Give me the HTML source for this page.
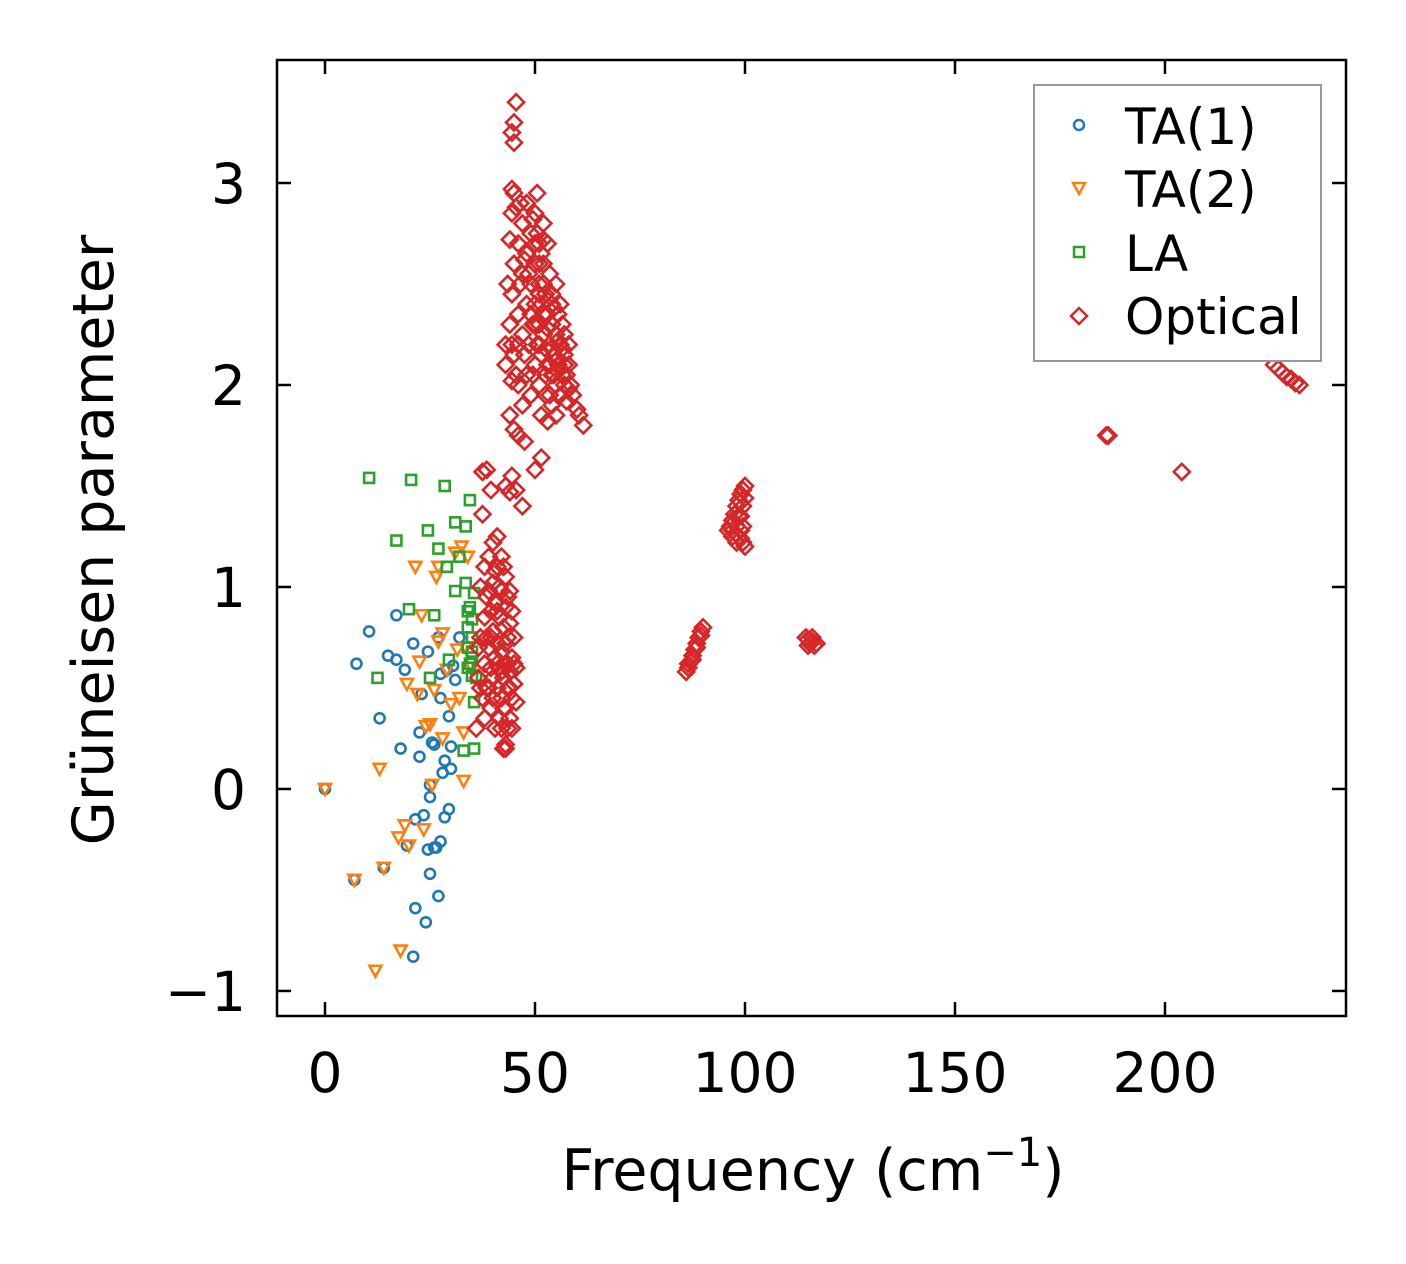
<!DOCTYPE html>
<html><head><meta charset="utf-8"><style>
html,body{margin:0;padding:0;background:#fff;}
svg{display:block;font-family:"DejaVu Sans","Liberation Sans",sans-serif;}
</style></head><body>
<svg id="chart" width="1406" height="1264" viewBox="0 0 1406 1264" xmlns="http://www.w3.org/2000/svg">
<rect width="1406" height="1264" fill="#fff"/>
<g id="marks"></g>
<g id="axes"></g>
<text x="813" y="1190" font-size="57" text-anchor="middle">Frequency (cm<tspan font-size="40" dy="-24">−1</tspan><tspan dy="24">)</tspan></text>
<text transform="translate(113,540) rotate(-90)" font-size="57" text-anchor="middle">Grüneisen parameter</text>
<g>
<rect x="1034" y="85" width="287" height="276" fill="#fff" stroke="#999" stroke-width="2"/>
<circle cx="1079" cy="125" r="5" fill="none" stroke="#1f77b4" stroke-width="2.5"/>
<text x="1125" y="144" font-size="50">TA(1)</text>
<polygon points="1073,183 1085,183 1079,194" fill="none" stroke="#ff7f0e" stroke-width="2.5"/>
<text x="1125" y="207" font-size="50">TA(2)</text>
<rect x="1074" y="247" width="10" height="10" fill="none" stroke="#2ca02c" stroke-width="2.5"/>
<text x="1125" y="271" font-size="50">LA</text>
<polygon points="1079,308 1087,316 1079,324 1071,316" fill="none" stroke="#d62728" stroke-width="2.5"/>
<text x="1125" y="334" font-size="50">Optical</text>
</g>
</svg>
<script>
const xTicks=[0,50,100,150,200];
const yTicks=[-1,0,1,2,3];
const yTickLabels=["−1","0","1","2","3"];
const ta1=[[0,0],[7.5,0.62],[7,-0.45],[10.5,0.78],[13,0.35],[14,-0.39],[15,0.66],[17,0.64],[17,0.86],[18,0.2],[19,0.59],[19.5,-0.28],[21,0.72],[21,-0.83],[21.5,-0.15],[21.5,-0.59],[22.5,0.16],[22.5,0.28],[23,0.47],[23.5,-0.13],[24,-0.66],[24.5,0.68],[24.5,-0.3],[25,-0.42],[25,0.02],[25,-0.04],[25.5,0.23],[26,-0.29],[26,0.22],[26.5,-0.29],[27,0.75],[27,-0.53],[27.5,0.45],[27.5,0.57],[27.5,-0.26],[28,0.08],[28.5,0.14],[28.5,-0.14],[29,0.59],[29.5,-0.1],[29.5,0.36],[30,0.1],[30,0.21],[30.5,0.61],[31,0.54],[32,0.75]];
const ta2=[[0,0],[7,-0.45],[12,-0.9],[13,0.1],[14,-0.39],[17.5,-0.24],[18,-0.8],[19,-0.18],[19.5,0.52],[20,-0.28],[21.5,1.1],[22,0.47],[22.5,0.63],[23,0.86],[23.5,-0.2],[24,0.31],[25,0.32],[25.5,0.02],[26,0.49],[26.5,1.05],[27,1.1],[27,0.73],[28,0.77],[28,0.25],[29,0.59],[30,0.42],[31,1.17],[31.5,0.69],[32,0.45],[32.5,1.2],[33,0.04],[33,0.28],[33.5,0.7],[34,1.15],[35,0.6]];
const la=[[10.5,1.54],[12.5,0.55],[17,1.23],[20,0.89],[20.5,1.53],[24.5,1.28],[25,0.55],[26,0.86],[27,1.19],[28.5,1.5],[29,1.1],[29.5,0.64],[31,1.32],[31,0.98],[32,1.15],[33,0.19],[33.5,1.3],[33.5,1.02],[34,0.8],[34,0.88],[34,0.7],[34,0.6],[34.5,1.43],[34.5,0.9],[35,0.84],[35,0.65],[35,0.56],[35,0.75],[35.5,0.2],[35.5,0.43],[35.5,0.97],[36,0.55],[34.5,0.62],[35,0.68]];
const optical=[[36,0.3],[36.5,0.55],[37,0.75],[37,1.0],[37.5,0.45],[37.5,1.36],[38,0.62],[38,0.85],[38,1.1],[38.5,0.5],[38.5,0.95],[39,0.7],[39,1.15],[39.5,0.4],[39.5,0.6],[39.5,0.88],[40,0.55],[40,0.78],[40,1.02],[40,1.22],[40.5,0.65],[40.5,0.92],[41,0.5],[41,0.72],[41,1.1],[41.5,0.6],[41.5,0.85],[41.5,0.35],[42,0.45],[42,0.68],[42,0.98],[42,1.15],[42.5,0.2],[42.5,0.55],[42.5,0.8],[43,0.22],[43,0.4],[43,0.62],[43,0.9],[43,1.05],[43.5,0.3],[43.5,0.5],[43.5,0.75],[44,0.58],[44,0.82],[44,0.98],[44.5,0.45],[44.5,0.65],[45,0.52],[45,0.75],[45.5,0.43],[45.5,0.6],[39,0.5],[38,0.35],[40.5,0.3],[41,1.25],[42,0.3],[44,0.35],[43,0.2],
[38.5,0.75],[39,0.98],[40,0.45],[40.5,1.08],[41,0.88],[41.5,1.0],[42,0.58],[42.5,1.1],[43,0.72],[43.5,0.95],[44,0.5],[44.5,0.88],[45,0.62],[36.5,0.7],[37,0.5],[39.5,0.75],[41,0.62],[42.5,0.4],[43.5,0.62],[44.5,0.3],
[37.5,1.57],[38.5,1.58],[39.5,1.48],[43,1.5],[44.5,1.55],[45.5,1.48],[47,1.4],[50,1.58],[51.5,1.64],[44,1.47],
[44.5,3.25],[45,3.3],[45.5,3.4],[45,3.2],[44.5,2.97],[45,2.95],[45.5,2.88],
[43,2.1],[43,2.2],[43.5,2.5],[44,1.85],[44,2.3],[44,2.72],[44.5,2.02],[44.5,2.45],[44.5,2.85],[45,1.78],[45,2.15],[45,2.6],[46,1.75],[46,2.0],[46,2.35],[46,2.7],[46.5,2.9],[47,1.9],[47,2.25],[47,2.55],[47,2.8],[47.5,1.72],[48,2.05],[48,2.4],[48,2.65],[48,2.9],[48.5,2.2],[49,1.95],[49,2.5],[49,2.75],[49.5,2.3],[50,2.1],[50,2.4],[50,2.6],[50,2.85],[50.5,2.95],[50.5,2.2],[51,2.0],[51,2.3],[51,2.5],[51,2.7],[51.5,1.85],[51.5,2.15],[51.5,2.4],[52,2.6],[52,2.8],[52,2.25],[52.5,1.95],[52.5,2.45],[53,2.1],[53,2.35],[53,2.7],[53,1.82],[53.5,2.2],[53.5,2.55],[54,1.9],[54,2.05],[54,2.3],[54,2.45],[54.5,2.15],[54.5,2.38],[55,1.85],[55,2.0],[55,2.25],[55,2.5],[55.5,2.1],[55.5,2.35],[56,1.95],[56,2.2],[56,2.4],[56.5,2.05],[56.5,2.3],[57,2.15],[57,2.0],[57,2.25],[57.5,1.92],[58,2.1],[58,2.2],[58.5,2.0],[59,1.95],[60,1.88],[60.5,1.85],[61.5,1.8],[49.5,2.05],[47.5,2.15],[46.5,2.5],[52.5,2.05],[53.5,1.95],
[50.5,2.75],[51.5,2.65],[52,2.72],[50,2.3],[51,2.2],[52,2.35],[53,2.28],[54,2.18],[55,2.12],[56,2.08],[57,2.1],[52.5,2.18],[53.5,2.1],[54.5,2.05],[55.5,2.22],[56.5,2.18],[51,2.45],[52,2.5],[53,2.42],[54,2.4],[49,2.35],[48.5,2.55],[47.5,2.62],[49.5,2.82],[50,2.7],[51,2.6],[46,2.2],[45.5,2.05],[44.5,2.2],[57.5,2.05],[58,1.98],
[86,0.58],[86.5,0.6],[87,0.63],[87.5,0.66],[88,0.69],[88.5,0.72],[89,0.75],[89.5,0.78],[90,0.8],[86.5,0.62],[87.5,0.64],[88.5,0.7],[89.5,0.76],
[96,1.28],[96.5,1.3],[97,1.33],[97.5,1.36],[98,1.4],[98.5,1.43],[99,1.46],[99.5,1.48],[100,1.5],[97,1.25],[98,1.22],[99,1.24],[100,1.2],[99.5,1.3],[98.5,1.35],[97,1.28],[98,1.3],[99,1.35],[99.5,1.4],[98,1.26],[99,1.28],[100,1.44],[99.5,1.22],
[114.5,0.75],[115,0.74],[115.5,0.72],[116,0.73],[116.5,0.71],[117,0.72],[115,0.71],[116,0.75],
[186,1.75],[186.5,1.75],[204,1.57],[226,2.1],[227,2.08],[228,2.06],[229,2.04],[230,2.03],[231,2.01],[232,2.0]];

const L=277,R=1346,T=60,B=1016;
const X0=-11.43,X1=243.1,Y0=-1.124,Y1=3.609;
function sx(v){return L+(v-X0)/(X1-X0)*(R-L);}
function sy(v){return B-(v-Y0)/(Y1-Y0)*(B-T);}
const NS='http://www.w3.org/2000/svg';
const marks=document.getElementById('marks');
const axes=document.getElementById('axes');
function mk(tag,attrs,parent){const e=document.createElementNS(NS,tag);for(const k in attrs)e.setAttribute(k,attrs[k]);parent.appendChild(e);return e;}

ta1.forEach(p=>{const e=mk('circle',{cx:sx(p[0]),cy:sy(p[1]),r:5,fill:'none',stroke:'#1f77b4','stroke-width':2.6},marks);

});
ta2.forEach(p=>{const x=sx(p[0]),y=sy(p[1]);const e=mk('polygon',{points:`${x-6},${y-5} ${x+6},${y-5} ${x},${y+6}`,fill:'none',stroke:'#ff7f0e','stroke-width':2.6},marks);

});
la.forEach(p=>{const x=sx(p[0]),y=sy(p[1]);const e=mk('rect',{x:x-5,y:y-5,width:10,height:10,fill:'none',stroke:'#2ca02c','stroke-width':2.6},marks);

});
optical.forEach(p=>{const x=sx(p[0]),y=sy(p[1]);const e=mk('polygon',{points:`${x},${y-8} ${x+8},${y} ${x},${y+8} ${x-8},${y}`,fill:'none',stroke:'#d62728','stroke-width':2.6},marks);

});

const frame=mk('rect',{x:L,y:T,width:R-L,height:B-T,fill:'none',stroke:'#000','stroke-width':2.5},axes);


xTicks.forEach(v=>{const x=sx(v);
const t1=mk('line',{x1:x,x2:x,y1:B,y2:B-14,stroke:'#000','stroke-width':2.5},axes);


const t2=mk('line',{x1:x,x2:x,y1:T,y2:T+14,stroke:'#000','stroke-width':2.5},axes);


const tx=mk('text',{x:x,y:1092,'font-size':55,'text-anchor':'middle'},axes);tx.textContent=String(v);

});
yTicks.forEach((v,i)=>{const y=sy(v);
const t1=mk('line',{x1:L,x2:L+14,y1:y,y2:y,stroke:'#000','stroke-width':2.5},axes);


const t2=mk('line',{x1:R,x2:R-14,y1:y,y2:y,stroke:'#000','stroke-width':2.5},axes);


const tx=mk('text',{x:246,y:y+20,'font-size':55,'text-anchor':'end'},axes);tx.textContent=yTickLabels[i];

});
</script>
</body></html>
